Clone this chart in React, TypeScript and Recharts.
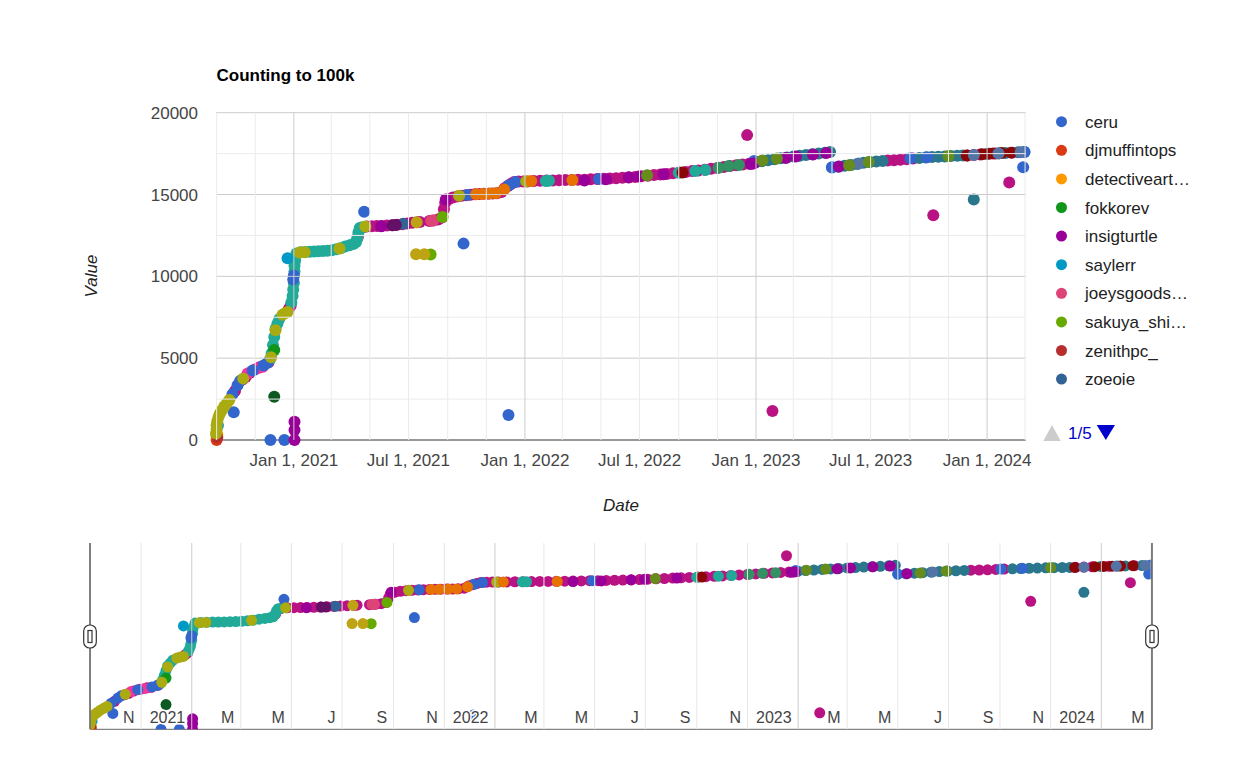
import React from "react";
import { ScatterChart, Scatter, XAxis, YAxis } from "recharts";

type Pt = [string, number];

// ---------- legend (page 1 of 5) ----------
const legendNames = ["ceru", "djmuffintops", "detectiveart…", "fokkorev", "insigturtle", "saylerr", "joeysgoods…", "sakuya_shi…", "zenithpc_", "zoeoie"];
const legendColors = ["#3366cc", "#dc3912", "#ff9900", "#109618", "#990099", "#0099c6", "#dd4477", "#66aa00", "#b82e2e", "#316395"];

// ---------- series values (date, value) ----------
const ceru: Pt[] = [
  ["2020-09-26", 2800], ["2020-09-28", 1700], ["2020-10-04", 3350], ["2020-10-08", 3600],
  ["2020-10-28", 4250], ["2020-11-14", 4550], ["2020-11-20", 4700], ["2020-11-25", 0],
  ["2020-12-17", 0], ["2020-12-31", 9800], ["2021-01-01", 10050], ["2021-04-22", 13950], ["2021-09-26", 12000],
  ["2021-10-02", 14970], ["2021-12-06", 1525], ["2021-12-07", 15570], ["2021-12-17", 15760], ["2022-04-28", 15950],
  ["2022-12-29", 17050], ["2023-05-01", 16660], ["2023-09-02", 17210], ["2023-09-28", 17280], ["2024-02-27", 16670],
  ["2024-02-29", 17600],
];
const djmuffintops: Pt[] = [["2020-09-01", 0]];
const detectiveart: Pt[] = [["2020-09-01", 200], ["2020-09-02", 350]];
const fokkorev: Pt[] = [["2020-12-01", 5500]];
const insigturtle: Pt[] = [
  ["2021-01-02", 0], ["2021-01-02", 610], ["2021-01-02", 1120], ["2021-05-19", 13060], ["2021-08-29", 14700],
  ["2022-04-05", 15860], ["2022-05-09", 15930], ["2022-06-14", 16050], ["2022-06-30", 16100], ["2022-08-08", 16240],
  ["2022-12-24", 16860], ["2022-12-28", 16900], ["2023-02-17", 17230], ["2023-03-05", 17320], ["2023-04-01", 17440],
  ["2023-04-22", 17530], ["2023-05-12", 16710],
];
const saylerr: Pt[] = [["2020-09-03", 900], ["2020-12-22", 11100]];
const joeysgoods: Pt[] = [["2021-08-06", 13400], ["2021-08-09", 13420]];
const sakuya: Pt[] = [["2021-08-05", 11340], ["2021-08-24", 13620]];
const zenithpc: Pt[] = [["2020-09-02", 150]];
const zoeoie: Pt[] = [["2021-06-23", 13210]];

const magentaTrail: Pt[] = [
  ["2020-09-30", 3000], ["2020-10-12", 3700], ["2020-10-17", 3850], ["2020-10-23", 4100], ["2020-10-31", 4300],
  ["2020-11-08", 4450], ["2020-11-22", 4750], ["2020-12-24", 8000], ["2020-12-27", 8200],
  ["2021-04-12", 12400], ["2021-04-18", 12950], ["2021-04-26", 13040], ["2021-05-04", 13060], ["2021-05-12", 13070],
  ["2021-05-20", 13080], ["2021-05-28", 13100], ["2021-06-05", 13120], ["2021-06-13", 13150], ["2021-06-21", 13190],
  ["2021-06-29", 13230], ["2021-07-07", 13270], ["2021-07-15", 13300], ["2021-07-19", 13320],
  ["2021-08-03", 13380], ["2021-08-10", 13420], ["2021-08-17", 13480], ["2021-08-23", 13600], ["2021-08-26", 14100],
  ["2021-08-28", 14500], ["2021-09-02", 14700], ["2021-09-09", 14820], ["2021-09-16", 14880], ["2021-09-23", 14920],
  ["2021-09-30", 14960], ["2021-10-07", 14990], ["2021-10-14", 15010], ["2021-10-21", 15030], ["2021-10-28", 15040],
  ["2021-11-04", 15050], ["2021-11-11", 15060], ["2021-11-18", 15080], ["2021-11-25", 15150], ["2021-11-30", 15380],
  ["2021-12-05", 15520], ["2021-12-10", 15650], ["2021-12-15", 15760], ["2021-12-22", 15790], ["2021-12-29", 15800],
  ["2022-01-05", 15800], ["2022-01-15", 15820], ["2022-01-25", 15840], ["2022-02-04", 15850], ["2022-02-14", 15860],
  ["2022-02-24", 15870], ["2022-03-06", 15880], ["2022-03-16", 15890], ["2022-03-26", 15900], ["2022-04-05", 15910],
  ["2022-04-15", 15930], ["2022-04-25", 15950], ["2022-05-05", 15960], ["2022-05-15", 15980], ["2022-05-25", 16000],
  ["2022-06-04", 16020], ["2022-06-14", 16040], ["2022-06-24", 16070], ["2022-07-04", 16110], ["2022-07-14", 16150],
  ["2022-07-24", 16190], ["2022-08-03", 16230], ["2022-08-13", 16260], ["2022-08-23", 16300], ["2022-09-02", 16340],
  ["2022-09-12", 16380], ["2022-09-22", 16430], ["2022-10-02", 16470], ["2022-10-12", 16520], ["2022-10-22", 16570],
  ["2022-11-01", 16620], ["2022-11-11", 16680], ["2022-11-21", 16740], ["2022-12-01", 16790], ["2022-12-11", 16840],
  ["2022-12-21", 16880], ["2022-12-31", 16950],
  ["2023-07-28", 17080], ["2023-08-07", 17100], ["2023-08-17", 17120], ["2023-08-27", 17160], ["2023-09-06", 17200],
  ["2023-12-01", 17390], ["2023-12-11", 17420], ["2023-12-21", 17450], ["2024-01-10", 17500], ["2024-02-10", 17560],
  ["2022-12-18", 18630], ["2023-01-27", 1770], ["2023-10-08", 13740], ["2024-02-05", 15740],
];
const tealDarkTrail: Pt[] = [
  ["2023-01-01", 16980], ["2023-01-10", 17040], ["2023-01-20", 17100], ["2023-01-30", 17160], ["2023-02-09", 17220],
  ["2023-02-19", 17270], ["2023-03-01", 17320], ["2023-03-11", 17370], ["2023-03-21", 17420], ["2023-03-31", 17460],
  ["2023-04-10", 17500], ["2023-04-20", 17550], ["2023-04-28", 17600],
  ["2023-05-01", 16650], ["2023-05-11", 16700], ["2023-05-21", 16760], ["2023-05-31", 16810], ["2023-06-10", 16870],
  ["2023-06-20", 16940], ["2023-06-30", 16990], ["2023-07-10", 17020], ["2023-07-20", 17050],
  ["2023-09-16", 17230], ["2023-09-26", 17260], ["2023-10-06", 17290], ["2023-10-16", 17310], ["2023-10-26", 17330],
  ["2023-11-05", 17350], ["2023-11-15", 17370], ["2023-11-24", 17380],
  ["2023-12-31", 17480], ["2024-01-20", 17520], ["2024-01-30", 17540], ["2024-02-19", 17580], ["2024-02-29", 17600],
  ["2023-12-11", 14700],
];
const tealTrail: Pt[] = [
  ["2020-11-24", 4900], ["2020-11-27", 5300], ["2020-11-29", 5800], ["2020-12-01", 6300], ["2020-12-03", 6800],
  ["2020-12-06", 7100], ["2020-12-09", 7400], ["2020-12-28", 8400], ["2020-12-30", 8800], ["2020-12-31", 9200],
  ["2021-01-01", 9600], ["2021-01-02", 10300], ["2021-01-02", 10650], ["2021-01-03", 10950], ["2021-01-05", 11400],
  ["2021-01-12", 11470], ["2021-01-19", 11490], ["2021-01-26", 11510], ["2021-02-02", 11520], ["2021-02-09", 11530],
  ["2021-02-16", 11550], ["2021-02-23", 11570], ["2021-03-02", 11600], ["2021-03-09", 11650], ["2021-03-16", 11720],
  ["2021-03-23", 11820], ["2021-03-30", 11900], ["2021-04-05", 11980], ["2021-04-09", 12080], ["2021-04-11", 12300],
  ["2021-04-13", 12700], ["2021-04-15", 12950], ["2021-04-19", 13000],
  ["2022-02-03", 15830], ["2022-02-08", 15840], ["2022-09-01", 16330], ["2022-09-27", 16440], ["2022-10-13", 16500],
];
const pinkDots: Pt[] = [["2020-10-20", 4070], ["2020-11-05", 4380], ["2020-11-13", 4480]];
const darkPurpleDots: Pt[] = [["2021-06-06", 13120], ["2021-06-11", 13140]];
const oliveDots: Pt[] = [
  ["2020-08-31", 400], ["2020-09-01", 650], ["2020-09-01", 900], ["2020-09-02", 1150], ["2020-09-04", 1400],
  ["2020-09-06", 1600], ["2020-09-09", 1800], ["2020-09-13", 2050], ["2020-09-17", 2250], ["2020-09-21", 2450],
  ["2020-10-13", 3750], ["2020-11-26", 5050], ["2020-12-03", 6700], ["2020-12-14", 7650], ["2020-12-18", 7750],
  ["2020-12-22", 7820], ["2021-01-10", 11450], ["2021-01-18", 11470], ["2021-03-14", 11700], ["2021-04-24", 13050],
  ["2021-09-19", 14920], ["2022-01-03", 15810],
];
const goldDots: Pt[] = [["2021-07-13", 11350], ["2021-07-26", 11350], ["2021-07-14", 13310]];
const orangeDots: Pt[] = [
  ["2021-10-16", 15010], ["2021-10-26", 15035], ["2021-11-06", 15055], ["2021-11-16", 15075], ["2021-11-29", 15300],
  ["2022-01-11", 15820], ["2022-03-17", 15880],
];
const darkRedDots: Pt[] = [
  ["2022-09-07", 16350], ["2023-11-30", 17380], ["2023-12-24", 17460], ["2024-01-04", 17490], ["2024-01-14", 17510],
  ["2024-01-24", 17530], ["2024-02-08", 17560],
];
const greenDots: Pt[] = [["2022-11-03", 16640], ["2022-11-19", 16740], ["2022-12-05", 16810]];
const greyBlueDots: Pt[] = [["2023-06-12", 16900], ["2023-12-11", 17410], ["2024-01-19", 17510], ["2024-02-23", 17590]];
const oliveGreenDots: Pt[] = [
  ["2022-07-13", 16180], ["2023-01-11", 17080], ["2023-02-03", 17200], ["2023-05-28", 16790], ["2023-06-28", 16990],
  ["2023-11-01", 17360],
];
const darkGreenDots: Pt[] = [["2020-12-01", 2650]];

// ---------- axis ticks ----------
const gridMonths = [
  "2020-09-01", "2020-11-01", "2021-01-01", "2021-03-01", "2021-05-01", "2021-07-01", "2021-09-01", "2021-11-01",
  "2022-01-01", "2022-03-01", "2022-05-01", "2022-07-01", "2022-09-01", "2022-11-01", "2023-01-01", "2023-03-01",
  "2023-05-01", "2023-07-01", "2023-09-01", "2023-11-01", "2024-01-01", "2024-03-01",
];
const mainTickDates = ["2021-01-01", "2021-07-01", "2022-01-01", "2022-07-01", "2023-01-01", "2023-07-01", "2024-01-01"];
const mainTickText = ["Jan 1, 2021", "Jul 1, 2021", "Jan 1, 2022", "Jul 1, 2022", "Jan 1, 2023", "Jul 1, 2023", "Jan 1, 2024"];
const rangeTickText = ["", "N", "2021", "M", "M", "J", "S", "N", "2022", "M", "M", "J", "S", "N", "2023", "M", "M", "J", "S", "N", "2024", "M"];
const yTicks = [0, 2500, 5000, 7500, 10000, 12500, 15000, 17500, 20000];
const yTickText = ["0", "", "5000", "", "10000", "", "15000", "", "20000"];

const FONT = "Arial, 'Liberation Sans', Helvetica, sans-serif";
const ts = (d: string) => Date.parse(d + "T00:00:00Z");
const isoOf = (v: number) => new Date(v).toISOString().slice(0, 10);
const X_DOMAIN = [Date.parse("2020-08-31T12:00:00Z"), Date.parse("2024-03-02T00:00:00Z")];

const SERIES: { key: string; color: string; data: Pt[] }[] = [
  { key: "magenta", color: "#b91383", data: magentaTrail },
  { key: "tealdark", color: "#2a778d", data: tealDarkTrail },
  { key: "teal", color: "#22aa99", data: tealTrail },
  { key: "pink", color: "#f4359e", data: pinkDots },
  { key: "ceru", color: "#3366cc", data: ceru },
  { key: "djmuffintops", color: "#dc3912", data: djmuffintops },
  { key: "detectiveart", color: "#ff9900", data: detectiveart },
  { key: "fokkorev", color: "#109618", data: fokkorev },
  { key: "insigturtle", color: "#990099", data: insigturtle },
  { key: "saylerr", color: "#0099c6", data: saylerr },
  { key: "joeysgoods", color: "#dd4477", data: joeysgoods },
  { key: "sakuya", color: "#66aa00", data: sakuya },
  { key: "zenithpc", color: "#b82e2e", data: zenithpc },
  { key: "zoeoie", color: "#316395", data: zoeoie },
  { key: "darkpurple", color: "#651067", data: darkPurpleDots },
  { key: "olive", color: "#aaaa11", data: oliveDots },
  { key: "gold", color: "#bea413", data: goldDots },
  { key: "orange", color: "#e67300", data: orangeDots },
  { key: "darkred", color: "#8b0707", data: darkRedDots },
  { key: "green", color: "#329262", data: greenDots },
  { key: "greyblue", color: "#5574a6", data: greyBlueDots },
  { key: "olivegreen", color: "#668d1c", data: oliveGreenDots },
  { key: "darkgreen", color: "#0c5922", data: darkGreenDots },
];

const toRows = (pts: Pt[]) => pts.map(([d, v]) => ({ x: ts(d), y: v }));

const makeDot = (color: string, r: number) => (p: any) =>
  p.cx == null || p.cy == null ? <g /> : <circle cx={p.cx} cy={p.cy} r={r} fill={color} />;

// ---------- layout ----------
const M_LEFT = 216, M_RIGHT = 1025.7, M_TOP = 112.7, M_BOTTOM = 440;
const R_TOP = 13, R_BOTTOM = 199.3; // local to range chart (placed at top 530)

const MainXTick = (props: any) => {
  const { x, payload } = props;
  const iso = isoOf(payload.value);
  const idx = mainTickDates.indexOf(iso);
  const major = iso.endsWith("-01-01");
  return (
    <g>
      <line x1={x} x2={x} y1={M_TOP} y2={M_BOTTOM} stroke={major ? "#cccccc" : "#ebebeb"} strokeWidth={1} />
      {idx >= 0 && (
        <text x={x} y={466} textAnchor="middle" fontFamily={FONT} fontSize={17} fill="#444444">
          {mainTickText[idx]}
        </text>
      )}
    </g>
  );
};

const MainYTick = (props: any) => {
  const { y, payload } = props;
  const v = payload.value as number;
  const idx = yTicks.indexOf(v);
  const major = v % 5000 === 0;
  return (
    <g>
      {v !== 0 && <line x1={M_LEFT} x2={M_RIGHT} y1={y} y2={y} stroke={major ? "#cccccc" : "#ebebeb"} strokeWidth={1} />}
      {yTickText[idx] && (
        <text x={198} y={y + 6} textAnchor="end" fontFamily={FONT} fontSize={17} fill="#444444">
          {yTickText[idx]}
        </text>
      )}
    </g>
  );
};

const RangeGridTick = (props: any) => {
  const { x, payload } = props;
  const major = isoOf(payload.value).endsWith("-01-01");
  return <line x1={x} x2={x} y1={R_TOP} y2={R_BOTTOM} stroke={major ? "#cccccc" : "#e6e6e6"} strokeWidth={1} />;
};

const RangeLabelTick = (props: any) => {
  const { x, payload } = props;
  const idx = gridMonths.indexOf(isoOf(payload.value));
  if (idx < 0 || !rangeTickText[idx]) return <g />;
  return (
    <text
      x={x - 6.5}
      y={R_BOTTOM - 6}
      textAnchor="end"
      fontFamily={FONT}
      fontSize={16}
      fill="#444444"
      stroke="#ffffff"
      strokeWidth={3}
      strokeLinejoin="round"
      style={{ paintOrder: "stroke" }}
    >
      {rangeTickText[idx]}
    </text>
  );
};

const gridTicks = gridMonths.map(ts);

export default function App() {
  const legendY = [121.7, 150.3, 178.9, 207.5, 236.1, 264.7, 293.3, 321.9, 350.5, 379.1];
  const handle = (cx: number) => (
    <g>
      <line x1={cx} x2={cx} y1={543} y2={729.3} stroke="#333333" strokeWidth={1.2} />
      <rect x={cx - 6.3} y={625} width={12.6} height={23} rx={6} fill="#ffffff" stroke="#333333" strokeWidth={1.2} />
      <rect x={cx - 2} y={630.5} width={4} height={12} fill="#ffffff" stroke="#333333" strokeWidth={1.2} />
    </g>
  );
  return (
    <div style={{ position: "absolute", left: 0, top: 0, width: 1242, height: 758, background: "#ffffff" }}>
      <div style={{ position: "absolute", left: 0, top: 0 }}>
        <ScatterChart width={1242} height={480} margin={{ top: M_TOP, right: 1242 - M_RIGHT, bottom: 10, left: M_LEFT - 60 }}>
          <YAxis
            type="number"
            dataKey="y"
            domain={[0, 20000]}
            ticks={yTicks}
            interval={0}
            width={60}
            axisLine={false}
            tickLine={false}
            tick={<MainYTick />}
          />
          <XAxis
            type="number"
            dataKey="x"
            domain={X_DOMAIN}
            ticks={gridTicks}
            interval={0}
            height={30}
            axisLine={{ stroke: "#333333" }}
            tickLine={false}
            tick={<MainXTick />}
          />
          {SERIES.map((s) => (
            <Scatter key={s.key} name={s.key} data={toRows(s.data)} fill={s.color} shape={makeDot(s.color, 6)} isAnimationActive={false} />
          ))}
        </ScatterChart>
      </div>
      <div style={{ position: "absolute", left: 0, top: 530 }}>
        <ScatterChart width={1242} height={228} margin={{ top: R_TOP, right: 90, bottom: 7.7, left: 90 }}>
          <YAxis type="number" dataKey="y" domain={[0, 20000]} hide allowDataOverflow />
          <XAxis
            type="number"
            dataKey="x"
            domain={X_DOMAIN}
            ticks={gridTicks}
            interval={0}
            height={20}
            allowDataOverflow
            axisLine={{ stroke: "#666666" }}
            tickLine={false}
            tick={<RangeGridTick />}
          />
          {SERIES.map((s) => (
            <Scatter key={s.key} name={s.key} data={toRows(s.data)} fill={s.color} shape={makeDot(s.color, 5.5)} isAnimationActive={false} />
          ))}
          <XAxis
            xAxisId="labels"
            type="number"
            dataKey="x"
            domain={X_DOMAIN}
            ticks={gridTicks}
            interval={0}
            height={1}
            allowDataOverflow
            axisLine={false}
            tickLine={false}
            tick={<RangeLabelTick />}
            {...({ zIndex: 1000 } as any)}
          />
        </ScatterChart>
      </div>
      <svg width={1242} height={758} style={{ position: "absolute", left: 0, top: 0, pointerEvents: "none" }}>
        <text x={216.5} y={80.5} fontFamily={FONT} fontSize={17} fontWeight="bold" fill="#000000">
          Counting to 100k
        </text>
        <text
          x={91}
          y={276}
          transform="rotate(-90 91 276)"
          textAnchor="middle"
          dominantBaseline="central"
          fontFamily={FONT}
          fontSize={17}
          fontStyle="italic"
          fill="#222222"
        >
          Value
        </text>
        <text x={621} y={511} textAnchor="middle" fontFamily={FONT} fontSize={17} fontStyle="italic" fill="#222222">
          Date
        </text>
        {legendNames.map((n, i) => (
          <g key={n}>
            <circle cx={1061.5} cy={legendY[i]} r={5.5} fill={legendColors[i]} />
            <text x={1085} y={legendY[i] + 6} fontFamily={FONT} fontSize={17} fill="#222222">
              {n}
            </text>
          </g>
        ))}
        <polygon points="1043.3,441 1060.7,441 1052,425" fill="#cccccc" />
        <text x={1068} y={439} fontFamily={FONT} fontSize={17} fill="#0000cc">
          1/5
        </text>
        <polygon points="1096.7,425 1115,425 1105.8,440" fill="#0000cc" />
        {handle(90)}
        {handle(1152)}
      </svg>
    </div>
  );
}
